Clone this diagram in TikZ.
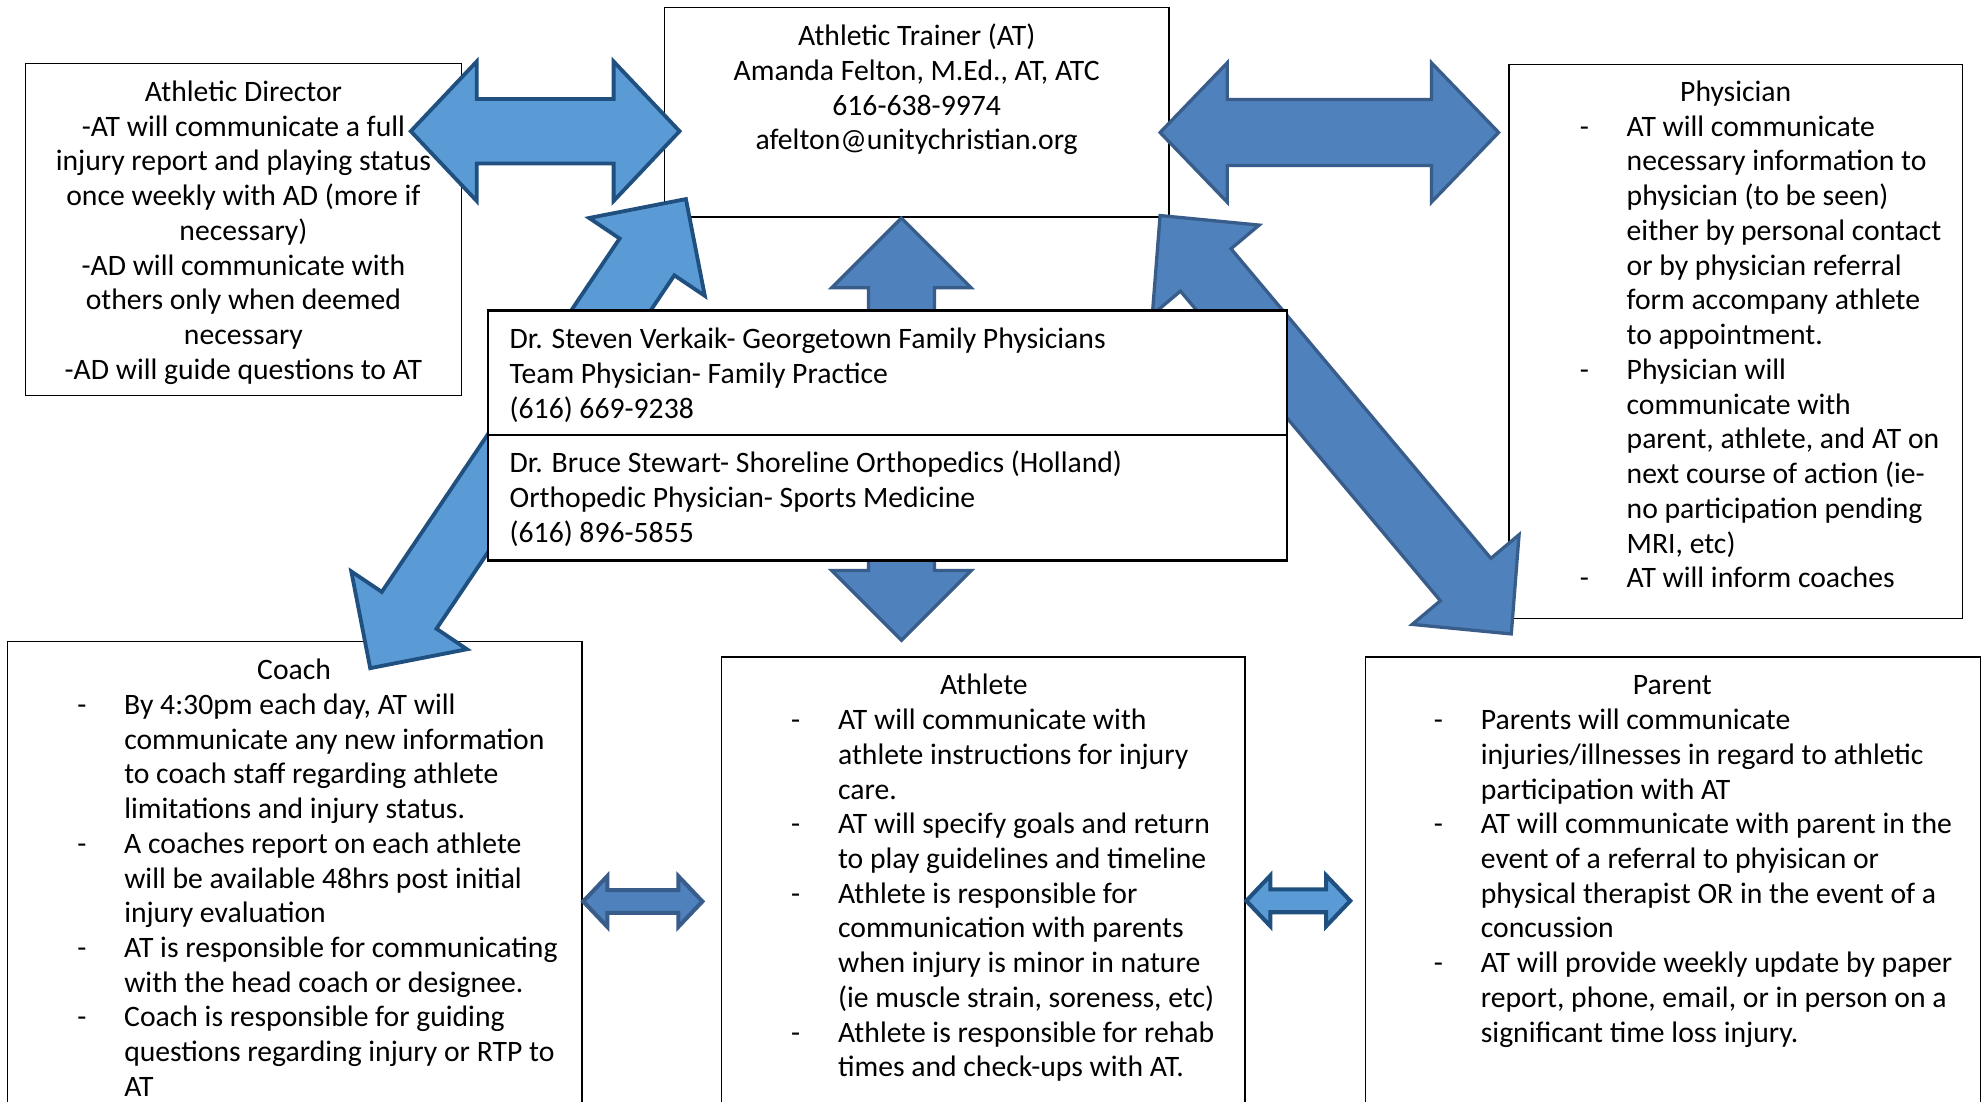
\documentclass[tikz,border=0pt]{standalone}
\usepackage{fontspec}
\setmainfont{Carlito}
\usetikzlibrary{calc}
\definecolor{lightfill}{HTML}{5B9BD5}
\definecolor{lightline}{HTML}{1F5080}
\definecolor{darkfill}{HTML}{4F81BD}
\definecolor{darkline}{HTML}{385D8A}
\tikzset{
  box/.style={draw=black, line width=0.6pt, fill=white},
  docbox/.style={draw=black, line width=1pt, fill=white},
  txt/.style={inner sep=0pt, outer sep=0pt, font=\fontsize{11.7pt}{13.7pt}\selectfont},
  lightarrow/.style={fill=lightfill, draw=lightline, line width=1.5pt, line join=miter},
  darkarrow/.style={fill=darkfill, draw=darkline, line width=1.3pt, line join=miter},
}
% #1 style, #2 tip A, #3 tip B, #4 head length, #5 head half width, #6 shaft half width, #7 prefix
\newcommand{\blockarrow}[7]{%
  \coordinate (#7-ha) at ($(#2)!#4!(#3)$);
  \coordinate (#7-hb) at ($(#3)!#4!(#2)$);
  \draw[#1] (#2) -- ($(#7-ha)!#5!90:(#3)$) -- ($(#7-ha)!#6!90:(#3)$)
    -- ($(#7-hb)!#6!-90:(#2)$) -- ($(#7-hb)!#5!-90:(#2)$) -- (#3)
    -- ($(#7-hb)!#5!90:(#2)$) -- ($(#7-hb)!#6!90:(#2)$)
    -- ($(#7-ha)!#6!-90:(#3)$) -- ($(#7-ha)!#5!-90:(#3)$) -- cycle;
}
\begin{document}
\begin{tikzpicture}[x=0.5pt,y=-0.5pt]
\useasboundingbox (0,0) rectangle (1568,869);
\clip (0,0) rectangle (1568,869);
\fill[white] (0,0) rectangle (1568,869);

% ---------- boxes ----------
\draw[box] (20,50) rectangle (364,312);
\node[txt, anchor=base] (adtext) at (192,80) {\begin{tabular}[t]{@{}c@{}}
Athletic Director\\
-AT will communicate a full\\
injury report and playing status\\
once weekly with AD (more if\\
necessary)\\
-AD will communicate with\\
others only when deemed\\
necessary\\
-AD will guide questions to AT
\end{tabular}};

\draw[box] (524,6) rectangle (922,171);
\node[txt, anchor=base] (attext) at (723,36) {\begin{tabular}[t]{@{}c@{}}
Athletic Trainer (AT)\\
Amanda Felton, M.Ed., AT, ATC\\
616-638-9974\\
afelton@unitychristian.org
\end{tabular}};

\draw[box] (1190,51) rectangle (1548,488);
\node[txt, anchor=base] (phystitle) at (1369,80) {Physician};
\node[txt, anchor=base west] (phystext) at (1246,107.4) {\begin{tabular}[t]{@{}p{18.5pt}@{}l@{}}
- & AT will communicate\\
  & necessary information to\\
  & physician (to be seen)\\
  & either by personal contact\\
  & or by physician referral\\
  & form accompany athlete\\
  & to appointment.\\
- & Physician will\\
  & communicate with\\
  & parent, athlete, and AT on\\
  & next course of action (ie-\\
  & no participation pending\\
  & MRI, etc)\\
- & AT will inform coaches
\end{tabular}};

\draw[box] (6,506) rectangle (459,1000);
\node[txt, anchor=base] (coachtitle) at (232,536) {Coach};
\node[txt, anchor=base west] (coachtext) at (61,563.4) {\begin{tabular}[t]{@{}p{18.5pt}@{}l@{}}
- & By 4:30pm each day, AT will\\
  & communicate any new information\\
  & to coach staff regarding athlete\\
  & limitations and injury status.\\
- & A coaches report on each athlete\\
  & will be available 48hrs post initial\\
  & injury evaluation\\
- & AT is responsible for communicating\\
  & with the head coach or designee.\\
- & Coach is responsible for guiding\\
  & questions regarding injury or RTP to\\
  & AT
\end{tabular}};

\draw[box] (569,518) rectangle (982,1000);
\node[txt, anchor=base] (athtitle) at (776,548) {Athlete};
\node[txt, anchor=base west] (athtext) at (624,575.4) {\begin{tabular}[t]{@{}p{18.5pt}@{}l@{}}
- & AT will communicate with\\
  & athlete instructions for injury\\
  & care.\\
- & AT will specify goals and return\\
  & to play guidelines and timeline\\
- & Athlete is responsible for\\
  & communication with parents\\
  & when injury is minor in nature\\
  & (ie muscle strain, soreness, etc)\\
- & Athlete is responsible for rehab\\
  & times and check-ups with AT.
\end{tabular}};

\draw[box] (1077,518) rectangle (1562,1000);
\node[txt, anchor=base] (partitle) at (1319,548) {Parent};
\node[txt, anchor=base west] (partext) at (1131,575.4) {\begin{tabular}[t]{@{}p{18.5pt}@{}l@{}}
- & Parents will communicate\\
  & injuries/illnesses in regard to athletic\\
  & participation with AT\\
- & AT will communicate with parent in the\\
  & event of a referral to phyisican or\\
  & physical therapist OR in the event of a\\
  & concussion\\
- & AT will provide weekly update by paper\\
  & report, phone, email, or in person on a\\
  & significant time loss injury.
\end{tabular}};

% ---------- arrow end points ----------
\coordinate (adR)   at (324,103.5);
\coordinate (atL)   at (536,103.5);
\coordinate (atR)   at (915,104.5);
\coordinate (physL) at (1182,104.5);
\coordinate (atB)   at (711,172);
\coordinate (athT)  at (711,505);
\coordinate (atBL)  at (541,157);
\coordinate (coachT) at (292,527);
\coordinate (atBR)  at (915,170);
\coordinate (parT)  at (1192,500);
\coordinate (coachR) at (460,711);
\coordinate (athL)  at (554,711);
\coordinate (athR)  at (983,710.5);
\coordinate (parL)  at (1065,710.5);

% ---------- arrows ----------
\blockarrow{lightarrow}{adR}{atL}{26pt}{27.5pt}{12.75pt}{a1}
\blockarrow{darkarrow}{atR}{physL}{26.5pt}{27.5pt}{13pt}{a2}
\blockarrow{darkarrow}{atB}{athT}{27.5pt}{27.5pt}{13pt}{a3}
\blockarrow{lightarrow}{atBL}{coachT}{27.5pt}{27.5pt}{13pt}{a4}
\blockarrow{darkarrow}{atBR}{parT}{28pt}{27.5pt}{13pt}{a5}
\blockarrow{darkarrow, line width=1.6pt}{coachR}{athL}{9.5pt}{10pt}{4.5pt}{a6}
\blockarrow{lightarrow, line width=1.6pt}{athR}{parL}{9.5pt}{10pt}{4.5pt}{a7}

% ---------- physicians box (on top) ----------
\draw[docbox] (385,245) rectangle (1015,442);
\draw[docbox] (385,343) -- (1015,343);
\node[txt, anchor=base west] (doc1) at (402,275) {\begin{tabular}[t]{@{}l@{}}
Dr. Steven Verkaik- Georgetown Family Physicians\\
Team Physician- Family Practice\\
(616) 669-9238
\end{tabular}};
\node[txt, anchor=base west] (doc2) at (402,373) {\begin{tabular}[t]{@{}l@{}}
Dr. Bruce Stewart- Shoreline Orthopedics (Holland)\\
Orthopedic Physician- Sports Medicine\\
(616) 896-5855
\end{tabular}};
\end{tikzpicture}
\end{document}
